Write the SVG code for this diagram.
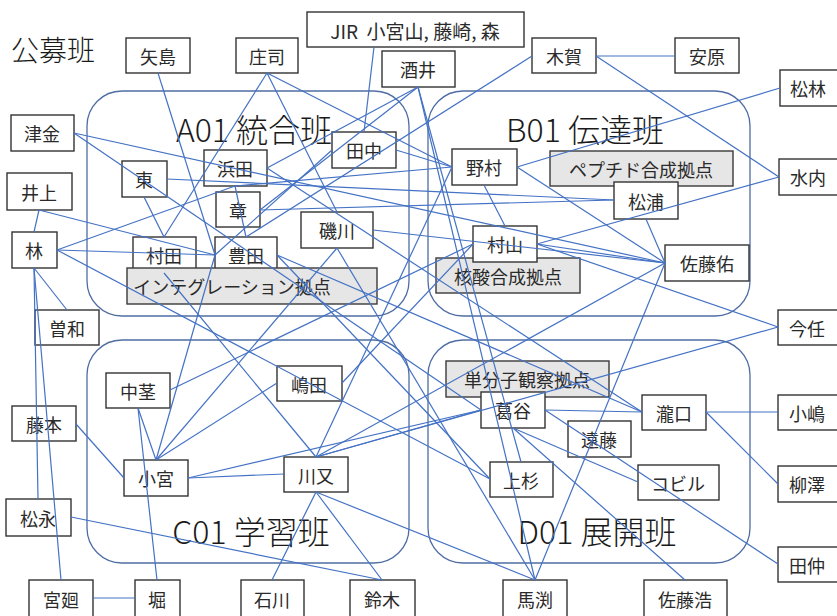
<svg xmlns="http://www.w3.org/2000/svg" width="837" height="616" viewBox="0 0 837 616">
<style>
.grp{fill:none;stroke:#4f6da3;stroke-width:1.3}
.n{fill:#fff;stroke:#333;stroke-width:1.4}
.h{fill:#e6e6e6;stroke:#3a3a3a;stroke-width:1.4}
.t{font-family:"Noto Sans CJK JP","Noto Sans",sans-serif;font-size:18px;fill:#2a2a2a;text-anchor:middle;dominant-baseline:central}
.g{font-family:"Noto Sans CJK JP","Noto Sans",sans-serif;font-size:32px;font-weight:300;fill:#1a1a1a;text-anchor:middle;dominant-baseline:central}
.c line{stroke:#4472c4;stroke-width:1.2}
</style>
<rect width="837" height="616" fill="#fff"/>
<g id="groups">
<rect class="grp" x="87" y="91" width="322" height="225" rx="35"/>
<rect class="grp" x="428" y="91" width="322" height="225" rx="35"/>
<rect class="grp" x="87" y="340" width="322" height="223" rx="35"/>
<rect class="grp" x="428" y="340" width="322" height="223" rx="35"/>
<text class="g" x="254" y="128">A01 統合班</text>
<text class="g" x="585" y="128">B01 伝達班</text>
<text class="g" x="251" y="530">C01 学習班</text>
<text class="g" x="597" y="530">D01 展開班</text>
<text class="g" x="53" y="49" style="font-size:28px">公募班</text>
</g>
<g id="nodes">
<g id="yajima"><rect class="n" x="126" y="38" width="64" height="35"/><text class="t" x="158" y="56">矢島</text></g>
<g id="shoji"><rect class="n" x="236" y="38" width="62" height="35"/><text class="t" x="267" y="56">庄司</text></g>
<g id="jir"><rect class="n" x="307" y="12" width="217" height="35"/><text class="t" x="415" y="30" style="font-size:19px;white-space:pre">JIR  小宮山, 藤崎, 森</text></g>
<g id="sakai"><rect class="n" x="382" y="51" width="73" height="36"/><text class="t" x="418" y="69">酒井</text></g>
<g id="kiga"><rect class="n" x="532" y="38" width="64" height="35"/><text class="t" x="564" y="56">木賀</text></g>
<g id="yasuhara"><rect class="n" x="675" y="38" width="64" height="35"/><text class="t" x="707" y="56">安原</text></g>
<g id="matsubayashi"><rect class="n" x="780" y="70" width="60" height="36"/><text class="t" x="808" y="88">松林</text></g>
<g id="mizuuchi"><rect class="n" x="779" y="159" width="60" height="36"/><text class="t" x="808" y="177">水内</text></g>
<g id="tsugane"><rect class="n" x="11" y="115" width="63" height="36"/><text class="t" x="42" y="133">津金</text></g>
<g id="inoue"><rect class="n" x="7" y="173" width="65" height="37"/><text class="t" x="39" y="192">井上</text></g>
<g id="hayashi"><rect class="n" x="12" y="232" width="45" height="36"/><text class="t" x="34" y="250">林</text></g>
<g id="sowa"><rect class="n" x="35" y="310" width="64" height="35"/><text class="t" x="67" y="328">曽和</text></g>
<g id="fujimoto"><rect class="n" x="12" y="406" width="64" height="35"/><text class="t" x="44" y="424">藤本</text></g>
<g id="matsunaga"><rect class="n" x="6" y="499" width="65" height="37"/><text class="t" x="38" y="518">松永</text></g>
<g id="miyasako"><rect class="n" x="29" y="580" width="64" height="38"/><text class="t" x="61" y="599">宮廻</text></g>
<g id="hori"><rect class="n" x="135" y="580" width="45" height="38"/><text class="t" x="157" y="599">堀</text></g>
<g id="ishikawa"><rect class="n" x="241" y="580" width="63" height="38"/><text class="t" x="272" y="599">石川</text></g>
<g id="suzuki"><rect class="n" x="350" y="580" width="65" height="38"/><text class="t" x="382" y="599">鈴木</text></g>
<g id="mabuchi"><rect class="n" x="503" y="580" width="64" height="38"/><text class="t" x="535" y="599">馬渕</text></g>
<g id="satohiro"><rect class="n" x="644" y="580" width="83" height="38"/><text class="t" x="685" y="599">佐藤浩</text></g>
<g id="tanaka2"><rect class="n" x="778" y="547" width="62" height="35"/><text class="t" x="807" y="565">田仲</text></g>
<g id="yanagisawa"><rect class="n" x="778" y="466" width="62" height="36"/><text class="t" x="807" y="484">柳澤</text></g>
<g id="kojima"><rect class="n" x="778" y="395" width="62" height="35"/><text class="t" x="807" y="413">小嶋</text></g>
<g id="imato"><rect class="n" x="778" y="310" width="62" height="35"/><text class="t" x="807" y="328">今任</text></g>
<g id="azuma"><rect class="n" x="122" y="161" width="45" height="36"/><text class="t" x="144" y="179">東</text></g>
<g id="hamada"><rect class="n" x="204" y="150" width="63" height="36"/><text class="t" x="235" y="168">浜田</text></g>
<g id="akira"><rect class="n" x="216" y="192" width="44" height="35"/><text class="t" x="238" y="210">章</text></g>
<g id="isokawa"><rect class="n" x="301" y="212" width="72" height="36"/><text class="t" x="337" y="230">磯川</text></g>
<g id="murata"><rect class="n" x="133" y="237" width="63" height="36"/><text class="t" x="164" y="255">村田</text></g>
<g id="toyoda"><rect class="n" x="215" y="237" width="62" height="36"/><text class="t" x="246" y="255">豊田</text></g>
<g id="integ"><rect class="h" x="127" y="268" width="250" height="36"/><text class="t" x="232" y="286">インテグレーション拠点</text></g>
<g id="tanaka"><rect class="n" x="332" y="132" width="64" height="36"/><text class="t" x="364" y="150">田中</text></g>
<g id="nomura"><rect class="n" x="452" y="149" width="65" height="36"/><text class="t" x="484" y="167">野村</text></g>
<g id="peptide"><rect class="h" x="550" y="151" width="183" height="35"/><text class="t" x="641" y="169">ペプチド合成拠点</text></g>
<g id="matsuura"><rect class="n" x="614" y="182" width="64" height="37"/><text class="t" x="646" y="201">松浦</text></g>
<g id="kakusan"><rect class="h" x="436" y="258" width="144" height="35"/><text class="t" x="508" y="276">核酸合成拠点</text></g>
<g id="murayama"><rect class="n" x="473" y="226" width="64" height="36"/><text class="t" x="505" y="244">村山</text></g>
<g id="satoyu"><rect class="n" x="665" y="245" width="84" height="36"/><text class="t" x="707" y="263">佐藤佑</text></g>
<g id="nakakuki"><rect class="n" x="106" y="373" width="64" height="35"/><text class="t" x="138" y="391">中茎</text></g>
<g id="shimada"><rect class="n" x="277" y="366" width="65" height="35"/><text class="t" x="309" y="384">嶋田</text></g>
<g id="komiya"><rect class="n" x="124" y="460" width="64" height="36"/><text class="t" x="156" y="478">小宮</text></g>
<g id="kawamata"><rect class="n" x="284" y="457" width="64" height="35"/><text class="t" x="316" y="475">川又</text></g>
<g id="tanbunshi"><rect class="h" x="446" y="361" width="163" height="36"/><text class="t" x="527" y="379">単分子観察拠点</text></g>
<g id="kuzuya"><rect class="n" x="481" y="392" width="64" height="36"/><text class="t" x="513" y="410">葛谷</text></g>
<g id="takiguchi"><rect class="n" x="642" y="395" width="64" height="35"/><text class="t" x="674" y="413">瀧口</text></g>
<g id="endo"><rect class="n" x="568" y="421" width="63" height="36"/><text class="t" x="599" y="439">遠藤</text></g>
<g id="uesugi"><rect class="n" x="490" y="462" width="63" height="35"/><text class="t" x="521" y="480">上杉</text></g>
<g id="kobiru"><rect class="n" x="638" y="465" width="81" height="35"/><text class="t" x="678" y="483">コビル</text></g>
</g>
<g id="connectors" class="c">
<line x1="158" y1="73" x2="215" y2="255"/>
<line x1="39" y1="210" x2="34" y2="232"/>
<line x1="34" y1="268" x2="67" y2="310"/>
<line x1="34" y1="268" x2="38" y2="499"/>
<line x1="34" y1="268" x2="61" y2="580"/>
<line x1="57" y1="250" x2="235" y2="186"/>
<line x1="57" y1="250" x2="215" y2="255"/>
<line x1="57" y1="250" x2="490" y2="479"/>
<line x1="39" y1="210" x2="215" y2="255"/>
<line x1="76" y1="424" x2="124" y2="478"/>
<line x1="71" y1="517" x2="382" y2="580"/>
<line x1="93" y1="598" x2="135" y2="598"/>
<line x1="157" y1="580" x2="138" y2="408"/>
<line x1="138" y1="408" x2="156" y2="460"/>
<line x1="170" y1="390" x2="473" y2="244"/>
<line x1="156" y1="460" x2="215" y2="255"/>
<line x1="156" y1="460" x2="337" y2="248"/>
<line x1="156" y1="460" x2="277" y2="383"/>
<line x1="188" y1="478" x2="481" y2="410"/>
<line x1="188" y1="478" x2="284" y2="474"/>
<line x1="164" y1="273" x2="316" y2="457"/>
<line x1="316" y1="457" x2="452" y2="167"/>
<line x1="316" y1="457" x2="481" y2="410"/>
<line x1="316" y1="457" x2="778" y2="327"/>
<line x1="316" y1="457" x2="665" y2="263"/>
<line x1="316" y1="492" x2="272" y2="580"/>
<line x1="316" y1="492" x2="382" y2="580"/>
<line x1="316" y1="492" x2="535" y2="580"/>
<line x1="665" y1="263" x2="535" y2="580"/>
<line x1="418" y1="87" x2="535" y2="580"/>
<line x1="418" y1="87" x2="521" y2="462"/>
<line x1="418" y1="87" x2="267" y2="168"/>
<line x1="418" y1="87" x2="260" y2="210"/>
<line x1="337" y1="248" x2="535" y2="580"/>
<line x1="277" y1="255" x2="490" y2="479"/>
<line x1="596" y1="56" x2="675" y2="56"/>
<line x1="596" y1="56" x2="779" y2="177"/>
<line x1="532" y1="56" x2="246" y2="237"/>
<line x1="780" y1="88" x2="517" y2="167"/>
<line x1="779" y1="177" x2="537" y2="244"/>
<line x1="374" y1="47" x2="364" y2="132"/>
<line x1="396" y1="150" x2="452" y2="167"/>
<line x1="332" y1="150" x2="215" y2="255"/>
<line x1="267" y1="73" x2="164" y2="237"/>
<line x1="267" y1="73" x2="452" y2="167"/>
<line x1="267" y1="73" x2="337" y2="212"/>
<line x1="74" y1="133" x2="665" y2="263"/>
<line x1="74" y1="133" x2="481" y2="410"/>
<line x1="167" y1="179" x2="614" y2="200"/>
<line x1="144" y1="197" x2="164" y2="237"/>
<line x1="235" y1="186" x2="246" y2="237"/>
<line x1="484" y1="185" x2="505" y2="226"/>
<line x1="517" y1="167" x2="665" y2="263"/>
<line x1="646" y1="219" x2="665" y2="263"/>
<line x1="537" y1="244" x2="665" y2="263"/>
<line x1="537" y1="244" x2="778" y2="327"/>
<line x1="545" y1="410" x2="642" y2="412"/>
<line x1="706" y1="412" x2="778" y2="412"/>
<line x1="706" y1="412" x2="778" y2="484"/>
<line x1="545" y1="410" x2="778" y2="564"/>
<line x1="513" y1="428" x2="638" y2="482"/>
<line x1="513" y1="428" x2="685" y2="580"/>
<line x1="342" y1="383" x2="473" y2="244"/>
<line x1="277" y1="255" x2="642" y2="412"/>
<line x1="267" y1="168" x2="642" y2="412"/>
<line x1="260" y1="210" x2="614" y2="200"/>
<line x1="373" y1="230" x2="665" y2="263"/>
<line x1="235" y1="186" x2="452" y2="167"/>
</g>
</svg>
